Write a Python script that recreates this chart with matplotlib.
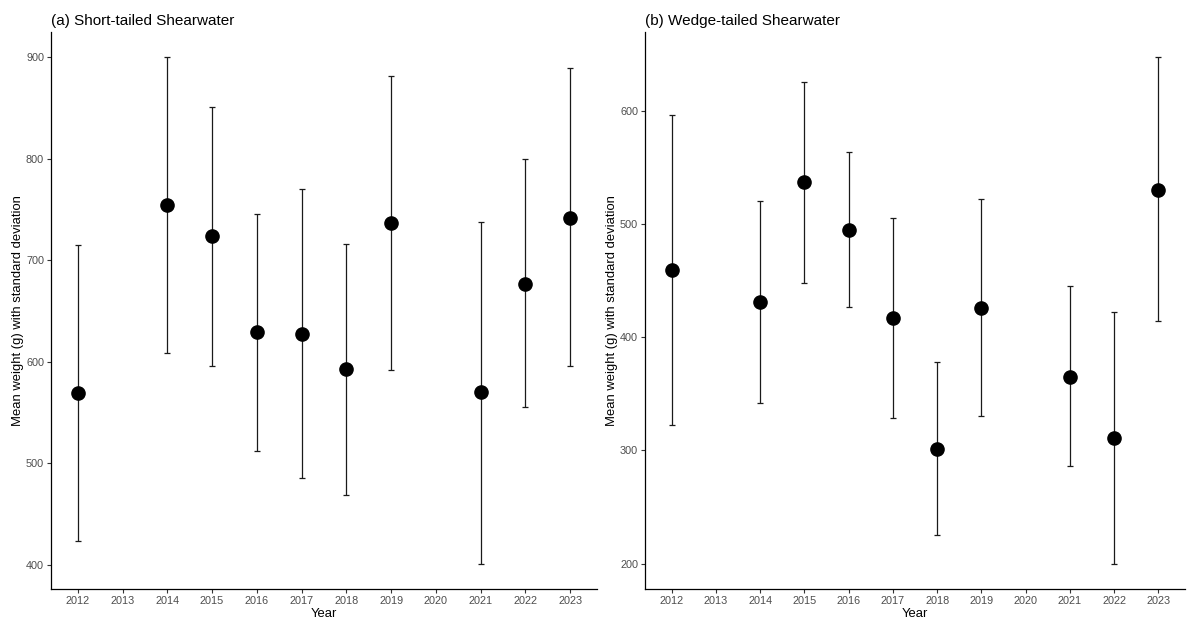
import matplotlib
matplotlib.use("Agg")
import matplotlib.pyplot as plt
import numpy as np

plt.rcParams['font.family'] = ['Liberation Sans', 'DejaVu Sans']

years_a = [2012, 2014, 2015, 2016, 2017, 2018, 2019, 2021, 2022, 2023]
mean_a = [569, 754, 724, 629, 627, 593, 737, 570, 677, 742]
upper_a = [715, 900, 851, 746, 770, 716, 882, 738, 800, 889]
lower_a = [423, 609, 596, 512, 485, 469, 592, 401, 555, 596]

years_b = [2012, 2014, 2015, 2016, 2017, 2018, 2019, 2021, 2022, 2023]
mean_b = [459, 431, 537, 495, 417, 301, 426, 365, 311, 530]
upper_b = [596, 520, 625, 563, 505, 378, 522, 445, 422, 647]
lower_b = [322, 342, 448, 427, 329, 225, 330, 286, 200, 414]

tick_years = list(range(2012, 2024))
yticks_a = [400, 500, 600, 700, 800, 900]
yticks_b = [200, 300, 400, 500, 600]

title_a = "(a) Short-tailed Shearwater"
title_b = "(b) Wedge-tailed Shearwater"
xlabel = "Year"
ylabel = "Mean weight (g) with standard deviation"

fig = plt.figure(figsize=(11.88, 6.19), dpi=100)
W, H = 1188, 619
ax1 = fig.add_axes([51 / W, 1 - 589 / H, (597 - 51) / W, (589 - 32) / H])
ax2 = fig.add_axes([645 / W, 1 - 589 / H, (1185 - 645) / W, (589 - 32) / H])


def draw(ax, years, mean, upper, lower, yticks, title, ylab_x):
    years = np.array(years)
    mean = np.array(mean, dtype=float)
    up = np.array(upper, dtype=float) - mean
    lo = mean - np.array(lower, dtype=float)
    ax.errorbar(years, mean, yerr=[lo, up], fmt='none', ecolor='#1a1a1a',
                elinewidth=0.9, capsize=2.0, capthick=0.9, zorder=2)
    ax.plot(years, mean, 'o', color='black', markersize=9.5, zorder=3)
    allv = np.concatenate([np.array(upper), np.array(lower)])
    lo_v, hi_v = allv.min(), allv.max()
    pad = 0.05 * (hi_v - lo_v)
    ax.set_ylim(lo_v - pad, hi_v + pad)
    ax.set_xlim(tick_years[0] - 0.6, tick_years[-1] + 0.6)
    ax.set_xticks(tick_years)
    ax.set_xticklabels([str(y) for y in tick_years])
    ax.set_yticks(yticks)
    for s in ['top', 'right']:
        ax.spines[s].set_visible(False)
    for s in ['left', 'bottom']:
        ax.spines[s].set_linewidth(0.9)
        ax.spines[s].set_color('black')
    ax.tick_params(axis='both', direction='out', length=3, width=0.8,
                   color='#333333', labelcolor='#4D4D4D', labelsize=7.8, pad=2)
    ax.set_xlabel(xlabel, fontsize=9.4, color='black', labelpad=1.5)
    ax.set_ylabel(ylabel, fontsize=9.4, color='black')
    ax.yaxis.set_label_coords(ylab_x, 0.5)
    ax.set_title(title, loc='left', fontsize=11, color='black', pad=5)


draw(ax1, years_a, mean_a, upper_a, lower_a, yticks_a, title_a, (24 - 51) / 546)
draw(ax2, years_b, mean_b, upper_b, lower_b, yticks_b, title_b, (618 - 645) / 540)

fig.savefig("out.png", dpi=100)
